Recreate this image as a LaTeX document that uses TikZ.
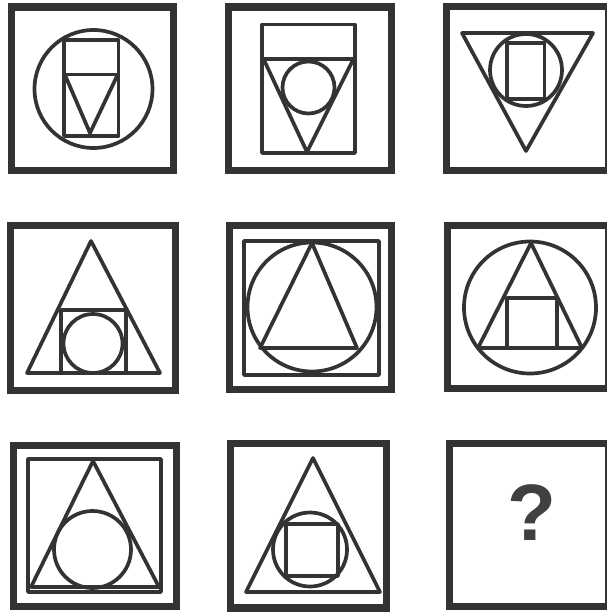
\documentclass[tikz,border=0pt]{standalone}
\usepackage{fontspec}
\setmainfont{Liberation Sans}
\begin{document}
\begin{tikzpicture}[x=1pt,y=-1pt,
  frame/.style={draw=black!80,line width=7.5pt},
  shp/.style={draw=black!80,line width=3.7pt,line join=round}]
\useasboundingbox (0,0) rectangle (607,613);
\begin{scope}
\clip (0,0) rectangle (607,613);
% frames
\draw[frame] (11.5,7) rectangle (173.5,170.5);
\draw[frame] (228.5,7) rectangle (391.5,170.5);
\draw[frame] (446.5,6.5) rectangle (609,170.5);
\draw[frame] (10.5,225.5) rectangle (175.5,390.5);
\draw[frame] (229.5,225.5) rectangle (391.5,389.5);
\draw[frame] (447.5,225.5) rectangle (609,388.5);
\draw[frame] (13.5,445.5) rectangle (176.5,606.5);
\draw[frame] (230.5,443.5) rectangle (386.5,608);
\draw[frame] (449.5,443.5) rectangle (609,606.5);
\end{scope}
% cell 1
\draw[shp] (93.5,89) circle (59);
\draw[shp] (64,40) rectangle (118.5,136);
\draw[shp] (64,74.5) -- (118.5,74.5);
\draw[shp] (65,75) -- (90,133) -- (117.5,75);
% cell 2
\draw[shp] (262,24.5) rectangle (355,153);
\draw[shp] (262,59) -- (355,59);
\draw[shp] (264,60) -- (307,152) -- (353,60);
\draw[shp] (308.5,87.5) circle (26);
% cell 3
\draw[shp] (462,33) -- (593,33) -- (526,151) -- cycle;
\draw[shp] (526,70) circle (36);
\draw[shp] (507,43) rectangle (544.5,99);
% cell 4
\draw[shp] (91,241) -- (160,373) -- (27,373) -- cycle;
\draw[shp] (61,310) rectangle (126,373);
\draw[shp] (93,343.5) circle (29.5);
% cell 5
\draw[shp] (244,241) rectangle (379,375);
\draw[shp] (312,307) circle (64.5);
\draw[shp] (312,243) -- (357,348) -- (260,348) -- cycle;
% cell 6
\draw[shp] (530,307.5) circle (66);
\draw[shp] (531,243) -- (582,348) -- (478,348) -- cycle;
\draw[shp] (507,298) rectangle (557,348);
% cell 7
\draw[shp] (28,459) rectangle (161,592);
\draw[shp] (93,461) -- (159,587) -- (31,587) -- cycle;
\draw[shp] (92.5,549.5) circle (38.5);
% cell 8
\draw[shp] (313,458) -- (380,592) -- (246,592) -- cycle;
\draw[shp] (310,549.5) circle (37);
\draw[shp] (286,524) rectangle (338,576);
% cell 9
\node[text=black!75,font=\bfseries\fontsize{80}{82}\selectfont,inner sep=0pt] (q) at (532,513) {?};
\end{tikzpicture}
\end{document}
